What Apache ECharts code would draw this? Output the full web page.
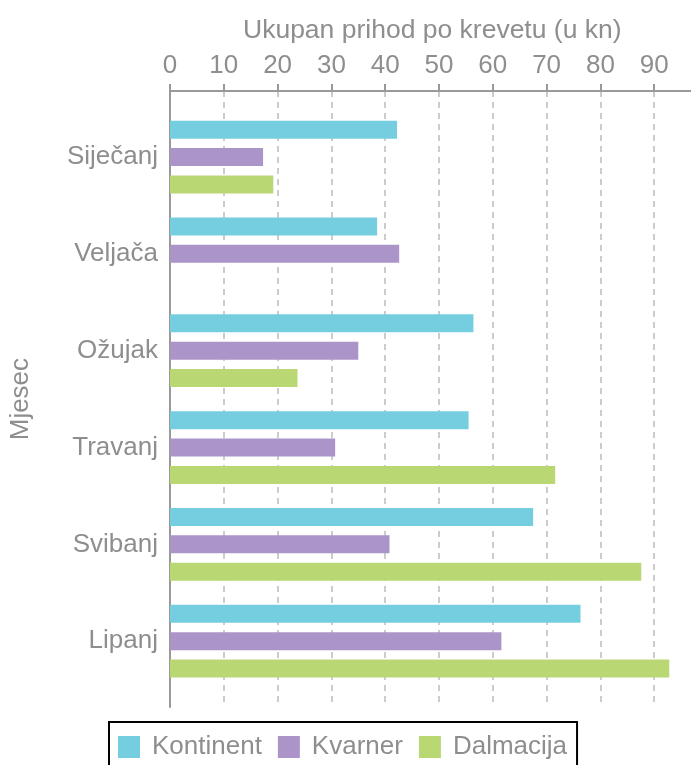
<!DOCTYPE html>
<html>
<head>
<meta charset="utf-8">
<script src="https://cdn.jsdelivr.net/npm/echarts@6/dist/echarts.min.js"></script>
<style>
  html, body { margin: 0; padding: 0; background: #fff; }
  #chart { width: 691px; height: 765px; }
</style>
</head>
<body>
<div id="chart"></div>
<script>
// podaci
const months = ['Siječanj', 'Veljača', 'Ožujak', 'Travanj', 'Svibanj', 'Lipanj'];
const seriesNames = ['Kontinent', 'Kvarner', 'Dalmacija'];
const kontinent = [42.2, 38.5, 56.4, 55.5, 67.5, 76.3];
const kvarner = [17.3, 42.6, 35.0, 30.7, 40.8, 61.6];
const dalmacija = [19.2, null, 23.7, 71.6, 87.6, 92.8];
const xTicks = [0, 10, 20, 30, 40, 50, 60, 70, 80, 90];

const colors = ['#74cee0', '#ab95c8', '#b9d874'];
const textColor = '#8e8e8e';
const font = 'Liberation Sans, Arial, sans-serif';

const chart = echarts.init(document.getElementById('chart'));

const barSeries = (name, data, i) => ({
  name: name,
  type: 'bar',
  xAxisIndex: 1,
  yAxisIndex: 1,
  data: data,
  barWidth: 18,
  barGap: '52%',
  itemStyle: { color: colors[i] }
});

const option = {
  backgroundColor: '#fff',
  animation: false,
  title: {
    text: 'Ukupan prihod po krevetu (u kn)',
    left: 238,
    top: 12,
    textStyle: { color: textColor, fontSize: 26.5, fontWeight: 'normal', fontFamily: font }
  },
  legend: {
    data: seriesNames,
    left: 109,
    top: 722,
    icon: 'rect',
    itemWidth: 22,
    itemHeight: 22,
    itemGap: 16,
    padding: [12, 10, 20, 9],
    borderColor: '#000',
    borderWidth: 2,
    textStyle: { color: textColor, fontSize: 26, fontFamily: font, padding: [0, 0, 0, 7] }
  },
  grid: [
    // grid za osi
    { left: 170, right: -17, top: 91, bottom: 58, outerBoundsMode: 'none', containLabel: false },
    // grid za stupce
    { left: 170, right: -17, top: 108.6, bottom: 75.4, outerBoundsMode: 'none', containLabel: false }
  ],
  xAxis: [
    {
      gridIndex: 0,
      type: 'value',
      position: 'top',
      min: 0,
      max: 100,
      interval: 10,
      axisLine: { show: true, onZero: false, lineStyle: { color: '#999', width: 2 } },
      axisTick: { show: true, length: 7, lineStyle: { color: '#999', width: 2 } },
      axisLabel: {
        color: textColor, fontSize: 26, fontFamily: font, margin: 12,
        formatter: v => (xTicks.indexOf(v) >= 0 ? String(v) : '')
      },
      splitLine: { show: true, lineStyle: { color: '#cccccc', width: 2, type: [6, 5] } }
    },
    {
      gridIndex: 1,
      type: 'value',
      min: 0,
      max: 100,
      show: false
    }
  ],
  yAxis: [
    {
      gridIndex: 0,
      type: 'value',
      min: 0,
      max: 1,
      axisLine: { show: true, onZero: false, lineStyle: { color: '#999', width: 2 } },
      axisTick: { show: false },
      axisLabel: { show: false },
      splitLine: { show: false }
    },
    {
      gridIndex: 1,
      type: 'category',
      inverse: true,
      data: months,
      axisLine: { show: false },
      axisTick: { show: false },
      axisLabel: { color: textColor, fontSize: 26, fontFamily: font, margin: 12 },
      name: 'Mjesec',
      nameLocation: 'middle',
      nameGap: 136,
      nameTextStyle: { color: textColor, fontSize: 26, fontFamily: font }
    }
  ],
  series: [
    barSeries(seriesNames[0], kontinent, 0),
    barSeries(seriesNames[1], kvarner, 1),
    barSeries(seriesNames[2], dalmacija, 2)
  ]
};

chart.setOption(option);
</script>
</body>
</html>
